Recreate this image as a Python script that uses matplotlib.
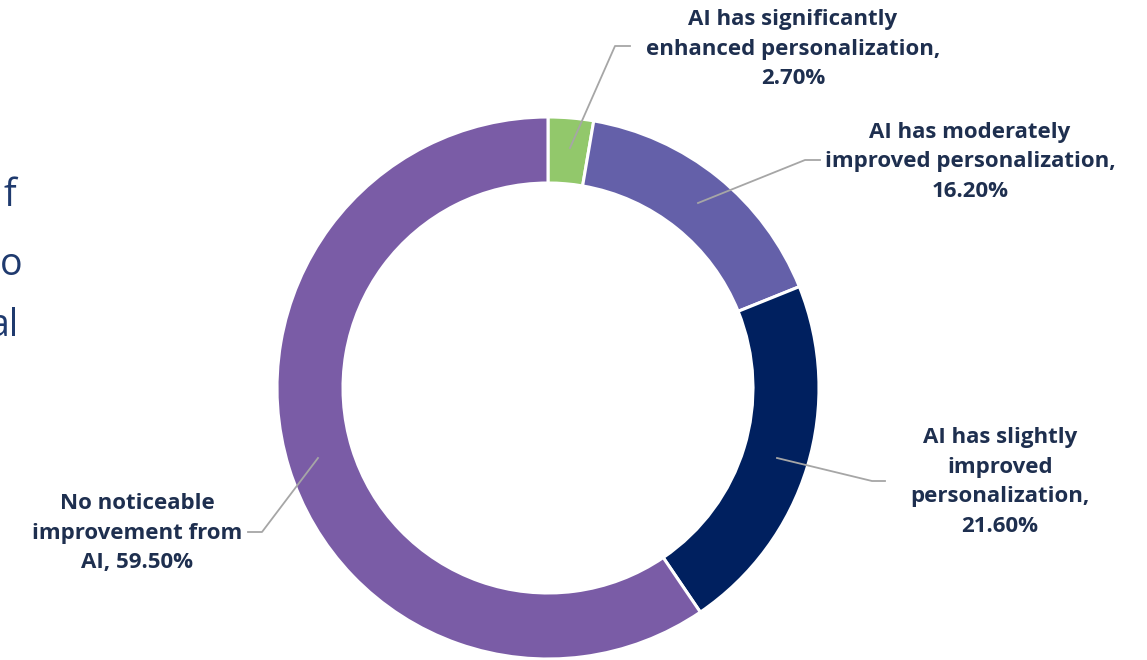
import matplotlib.pyplot as plt

# --- Data ---
labels = ["AI has significantly\nenhanced personalization,\n2.70%",
          "AI has moderately\nimproved personalization,\n16.20%",
          "AI has slightly\nimproved\npersonalization,\n21.60%",
          "No noticeable\nimprovement from\nAI, 59.50%"]
values = [2.7, 16.2, 21.6, 59.5]
colors = ["#92C86B", "#6460A9", "#00205F", "#7A5CA6"]

# label text anchor (pixel coords, y down) and leader line elbow
label_pos = [(793, 49), (970, 162), (1000, 482), (137, 533)]
elbows = [(615, 46), (805, 160), (872, 481), (262, 532)]
line_ends = [(630, 46), (820, 160), (885, 481), (248, 532)]
arrow_tips = [(570, 148), (698, 203), (777, 458), (318, 458)]

W, H = 1147, 660
plt.rcParams['font.family'] = ['Open Sans', 'DejaVu Sans']

fig = plt.figure(figsize=(W / 100, H / 100), dpi=100)
ax = fig.add_axes([0, 0, 1, 1])

cx, cy, r = 548, 388, 271
# y axis is flipped below, so start at -90 and go "counterclock" -> clockwise on screen
ax.pie(values, colors=colors, startangle=-90, counterclock=True,
       radius=r, center=(cx, cy),
       wedgeprops=dict(width=66, edgecolor='white', linewidth=2.2))
ax.set_xlim(0, W)
ax.set_ylim(H, 0)
ax.set_aspect('auto')
ax.axis('off')

# leader lines and labels
for lab, pos, el, end, tip in zip(labels, label_pos, elbows, line_ends, arrow_tips):
    ax.plot([tip[0], el[0], end[0]], [tip[1], el[1], end[1]],
            color="#A6A6A6", lw=1.3)
    ax.text(pos[0], pos[1], lab, ha='center', va='center', fontsize=16,
            fontweight='bold', color="#1E2F4F", linespacing=1.55)

# cut-off slide text at left edge
for t, x, y in [("f", 16, 196), ("o", 22, 265), ("al", 19, 326)]:
    ax.text(x, y, t, ha='right', va='center', fontsize=27, color="#1F3A6E")

fig.savefig("out.png", dpi=100)
